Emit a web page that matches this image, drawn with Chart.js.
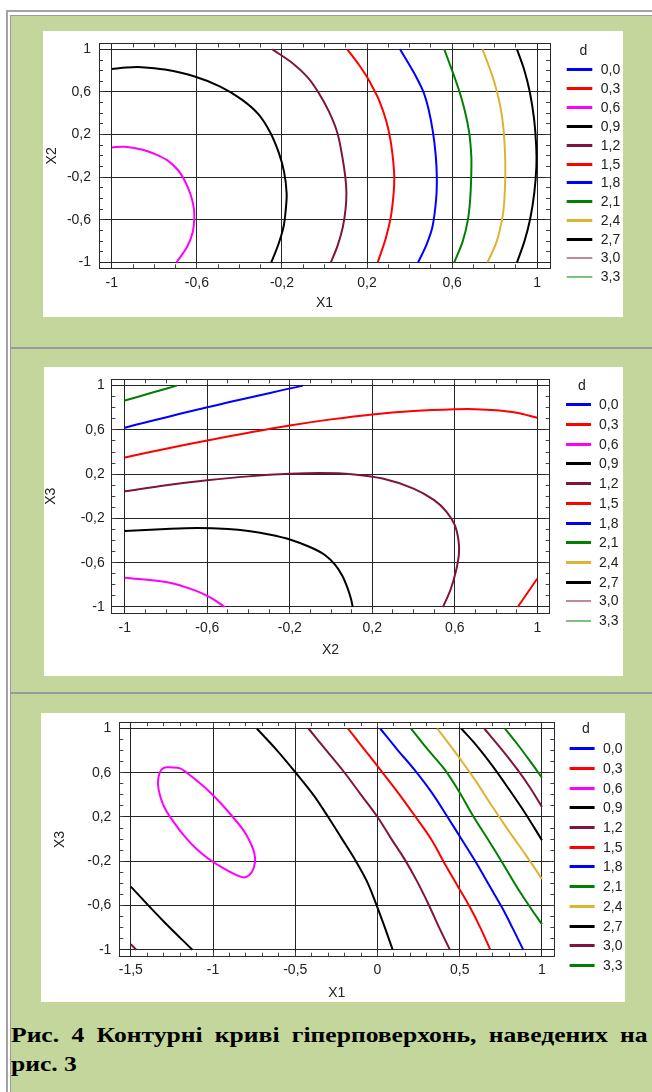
<!DOCTYPE html>
<html>
<head>
<meta charset="utf-8">
<script src="https://cdn.jsdelivr.net/npm/chart.js@4.4.1/dist/chart.umd.min.js"></script>
<style>
html, body { margin: 0; padding: 0; background: #fff; }
body { width: 652px; height: 1092px; overflow: hidden; position: relative; }
#outer { position: absolute; left: 6px; top: 10px; width: 700px; height: 1100px;
         border-left: 2px solid #a4a4a4; border-top: 2px solid #a4a4a4; }
.cell { position: absolute; left: 10px; width: 700px; box-sizing: border-box;
        border: 1px solid #9a9a9a; background: #c3d69b; }
canvas { position: absolute; background: #fff; }
.cap { position: absolute; left: 11px; width: 535px; color: #000;
       font: bold 21.5px/29px "Liberation Serif", "Times New Roman", serif;
       transform: scaleX(1.19); transform-origin: 0 0; }
.cap .l1 { text-align: justify; text-align-last: justify; white-space: nowrap; }
</style>
</head>
<body>
<div id="outer"></div>
<div class="cell" style="top:15px;height:333px"></div>
<div class="cell" style="top:348px;height:345px"></div>
<div class="cell" style="top:693px;height:420px"></div>

<canvas id="fig1" width="580" height="286" style="left:43px;top:31px"></canvas>
<canvas id="fig2" width="579" height="309" style="left:44px;top:367px"></canvas>
<canvas id="fig3" width="584" height="289" style="left:41px;top:713px"></canvas>

<div class="cap" style="top:1021px">
  <div class="l1">Рис. 4 Контурні криві гіперповерхонь, наведених на</div>
  <div>рис. 3</div>
</div>

<script>
// contour levels and their colours
var levels = ['0,0', '0,3', '0,6', '0,9', '1,2', '1,5', '1,8', '2,1', '2,4', '2,7', '3,0', '3,3'];
var levelColors = ['#0000ff', '#ff0000', '#ff00ff', '#000000', '#7f1440', '#ff0000',
                   '#0000ff', '#008000', '#dcb432', '#000000', '#7f1440', '#008000'];
var keyWidthsThin = [3, 3, 3, 3, 3, 3, 3, 3, 3, 3, 1, 1];
var keyWidthsThick = [3, 3, 3, 3, 3, 3, 3, 3, 3, 3, 3, 3];

// tick values and labels
var ticksStd = [-1, -0.6, -0.2, 0.2, 0.6, 1];
var ticksStdLabels = ['-1', '-0,6', '-0,2', '0,2', '0,6', '1'];
var ticksWide = [-1.5, -1, -0.5, 0, 0.5, 1];
var ticksWideLabels = ['-1,5', '-1', '-0,5', '0', '0,5', '1'];

// fig 1: X1 / X2
var f1_d06 = [[-1,0.08],[-0.94,0.085],[-0.86,0.06],[-0.8,0.02],[-0.74,-0.04],[-0.69,-0.13],[-0.655,-0.24],[-0.63,-0.36],[-0.615,-0.48],[-0.612,-0.58],[-0.62,-0.72],[-0.645,-0.85],[-0.696,-1]];
var f1_d09 = [[-1,0.815],[-0.93,0.83],[-0.86,0.833],[-0.75,0.81],[-0.61,0.745],[-0.49,0.65],[-0.39,0.53],[-0.31,0.39],[-0.255,0.22],[-0.215,0.03],[-0.19,-0.15],[-0.178,-0.35],[-0.182,-0.5],[-0.192,-0.66],[-0.215,-0.82],[-0.25,-1]];
var f1_d12 = [[-0.245,1],[-0.15,0.87],[-0.08,0.74],[-0.03,0.6],[0.02,0.42],[0.06,0.22],[0.083,0],[0.098,-0.2],[0.103,-0.35],[0.099,-0.5],[0.086,-0.67],[0.062,-0.84],[0.03,-1]];
var f1_d15 = [[0.107,1],[0.16,0.86],[0.2,0.74],[0.23,0.63],[0.255,0.53],[0.29,0.33],[0.31,0.15],[0.323,-0.05],[0.328,-0.2],[0.325,-0.35],[0.312,-0.57],[0.287,-0.78],[0.25,-1]];
var f1_d18 = [[0.355,1],[0.4,0.85],[0.43,0.745],[0.465,0.6],[0.49,0.43],[0.51,0.22],[0.523,0],[0.528,-0.2],[0.525,-0.4],[0.508,-0.66],[0.48,-0.83],[0.44,-1]];
var f1_d21 = [[0.563,1],[0.6,0.8],[0.63,0.63],[0.66,0.42],[0.68,0.22],[0.69,0],[0.69,-0.16],[0.685,-0.4],[0.674,-0.6],[0.65,-0.8],[0.61,-1]];
var f1_d24 = [[0.743,1],[0.775,0.83],[0.8,0.68],[0.825,0.48],[0.84,0.28],[0.848,0.05],[0.85,-0.16],[0.846,-0.4],[0.837,-0.57],[0.81,-0.8],[0.766,-1]];
var f1_d27 = [[0.905,1],[0.94,0.8],[0.965,0.6],[0.985,0.35],[0.995,0.1],[0.996,-0.1],[0.986,-0.35],[0.966,-0.6],[0.94,-0.8],[0.905,-1]];

// fig 2: X2 / X3
var f2_d06 = [[-1,-0.735],[-0.8,-0.775],[-0.66,-0.85],[-0.58,-0.92],[-0.516,-1]];
var f2_d09 = [[-1,-0.313],[-0.8,-0.295],[-0.65,-0.287],[-0.5,-0.295],[-0.4,-0.313],[-0.3,-0.345],[-0.2,-0.39],[-0.1,-0.46],[-0.03,-0.53],[0.02,-0.62],[0.055,-0.72],[0.08,-0.83],[0.097,-0.93],[0.105,-1]];
var f2_d12 = [[-1,0.045],[-0.8,0.1],[-0.6,0.145],[-0.4,0.18],[-0.2,0.203],[-0.05,0.21],[0.1,0.2],[0.25,0.16],[0.4,0.07],[0.5,-0.035],[0.56,-0.14],[0.6,-0.26],[0.618,-0.4],[0.62,-0.52],[0.605,-0.68],[0.58,-0.84],[0.543,-1]];
var f2_d15 = [[-1,0.35],[-0.8,0.43],[-0.6,0.505],[-0.4,0.575],[-0.2,0.64],[0,0.695],[0.2,0.74],[0.4,0.77],[0.6,0.786],[0.7,0.787],[0.8,0.778],[0.9,0.755],[1,0.71]];
var f2_d15b = [[0.905,-1],[1,-0.743]];
var f2_d18 = [[-1,0.62],[-0.6,0.805],[-0.137,1]];
var f2_d21 = [[-1,0.865],[-0.87,0.935],[-0.748,1]];

// fig 3: X1 / X3
var f3_d12b = [[-1.5,-0.95],[-1.467,-1]];
var f3_d09b = [[-1.5,-0.43],[-1.3,-0.745],[-1.126,-1]];
var f3_d06 = [[-1.26,0.65],[-1.2,0.64],[-1.16,0.6],[-1.1,0.53],[-1.03,0.44],[-0.95,0.32],[-0.88,0.2],[-0.82,0.09],[-0.78,-0.01],[-0.75,-0.12],[-0.745,-0.21],[-0.765,-0.3],[-0.805,-0.345],[-0.85,-0.33],[-0.93,-0.27],[-1.03,-0.175],[-1.1,-0.09],[-1.17,0.02],[-1.235,0.145],[-1.29,0.27],[-1.32,0.38],[-1.335,0.5],[-1.325,0.6],[-1.3,0.645],[-1.26,0.65]];
var f3_d09 = [[-0.734,1],[-0.61,0.8],[-0.497,0.6],[-0.39,0.4],[-0.3,0.2],[-0.215,0],[-0.135,-0.19],[-0.065,-0.38],[-0.01,-0.58],[0.04,-0.78],[0.092,-1]];
var f3_d12 = [[-0.42,1],[-0.31,0.8],[-0.2,0.6],[-0.1,0.4],[0,0.2],[0.085,0],[0.168,-0.19],[0.24,-0.38],[0.307,-0.58],[0.375,-0.8],[0.44,-1]];
var f3_d15 = [[-0.18,1],[-0.09,0.83],[0,0.66],[0.12,0.43],[0.232,0.2],[0.33,-0.01],[0.408,-0.22],[0.49,-0.43],[0.56,-0.61],[0.625,-0.8],[0.686,-1]];
var f3_d18 = [[0.016,1],[0.12,0.81],[0.223,0.63],[0.33,0.42],[0.426,0.2],[0.515,-0.01],[0.603,-0.22],[0.68,-0.42],[0.754,-0.61],[0.82,-0.8],[0.886,-1]];
var f3_d21 = [[0.204,1],[0.3,0.82],[0.408,0.63],[0.5,0.42],[0.585,0.2],[0.675,-0.01],[0.762,-0.22],[0.85,-0.44],[0.93,-0.62],[1,-0.77]];
var f3_d24 = [[0.363,1],[0.43,0.87],[0.5,0.73],[0.6,0.52],[0.7,0.29],[0.8,0.07],[0.9,-0.14],[1,-0.36]];
var f3_d27 = [[0.509,1],[0.6,0.85],[0.7,0.66],[0.8,0.45],[0.9,0.23],[1,-0.01]];
var f3_d30 = [[0.649,1],[0.75,0.82],[0.85,0.63],[0.93,0.46],[1,0.29]];
var f3_d33 = [[0.775,1],[0.85,0.86],[0.93,0.7],[1,0.555]];

// [level index, curve]
var fig1Curves = [[2, f1_d06], [3, f1_d09], [4, f1_d12], [5, f1_d15], [6, f1_d18], [7, f1_d21], [8, f1_d24], [9, f1_d27]];
var fig2Curves = [[2, f2_d06], [3, f2_d09], [4, f2_d12], [5, f2_d15], [5, f2_d15b], [6, f2_d18], [7, f2_d21]];
var fig3Curves = [[4, f3_d12b], [3, f3_d09b], [2, f3_d06], [3, f3_d09], [4, f3_d12], [5, f3_d15], [6, f3_d18],
                  [7, f3_d21], [8, f3_d24], [9, f3_d27], [10, f3_d30], [11, f3_d33]];

Chart.defaults.font.family = '"Liberation Sans", Arial, sans-serif';
Chart.defaults.font.size = 14;
Chart.defaults.color = '#222';

// level key on the right of the plot
var keyPlugin = {
  id: 'contourKey',
  afterDraw: function(chart, args, o) {
    var ctx = chart.ctx, a = chart.chartArea;
    ctx.save();
    ctx.font = '14px "Liberation Sans", Arial, sans-serif';
    ctx.fillStyle = '#222';
    ctx.textBaseline = 'middle';
    ctx.textAlign = 'center';
    ctx.fillText('d', a.right + o.titleX, a.top + o.titleY);
    ctx.textAlign = 'left';
    for (var i = 0; i < levels.length; i++) {
      var w = o.widths[i];
      // thin entries sit between pixel rows, so they come out soft like the original
      var y = Math.round(a.top + o.firstRow + i * o.gap) + (w == 3 ? 0.5 : 0);
      ctx.beginPath();
      ctx.strokeStyle = levelColors[i];
      ctx.lineWidth = w;
      ctx.moveTo(a.right + o.lineFrom, y);
      ctx.lineTo(a.right + o.lineTo, y);
      ctx.stroke();
      ctx.fillText(levels[i], a.right + o.textX, Math.round(y) + 0.5);
    }
    ctx.restore();
  }
};

function minorAxis(pos, min, max) {
  var horiz = pos == 'top' || pos == 'bottom';
  return {
    type: 'linear', position: pos, min: min, max: max, weight: 0,
    ticks: { display: false, stepSize: 0.1 },
    grid: { drawOnChartArea: false, drawTicks: true, tickLength: -4, color: '#444' },
    border: { display: true, color: '#2a2a2a' },
    afterFit: function(s) { if (horiz) s.height = 0; else s.width = 0; }
  };
}

function makeFigure(id, curves, g) {
  var datasets = curves.map(function(c) {
    return {
      data: c[1].map(function(p) { return { x: p[0], y: p[1] }; }),
      borderColor: levelColors[c[0]],
      borderWidth: 2,
      showLine: true,
      pointRadius: 0,
      tension: 0.35,
      fill: false
    };
  });

  return new Chart(document.getElementById(id), {
    type: 'scatter',
    data: { datasets: datasets },
    plugins: [keyPlugin],
    options: {
      responsive: false,
      animation: false,
      devicePixelRatio: 1,
      events: [],
      layout: { autoPadding: false, padding: { left: 0, top: g.top, right: g.right, bottom: 0 } },
      plugins: {
        legend: { display: false },
        tooltip: { enabled: false },
        contourKey: g.key
      },
      scales: {
        x: {
          type: 'linear', position: 'bottom', min: g.xMin, max: g.xMax, weight: 1,
          afterBuildTicks: function(s) { s.ticks = g.xTicks.map(function(v) { return { value: v }; }); },
          ticks: { callback: function(v, i) { return g.xLabels[i]; }, padding: g.xTickPad,
                   autoSkip: false, maxRotation: 0, color: '#222' },
          grid: { color: '#262626', drawTicks: false },
          border: { display: false },
          title: { display: true, text: g.xTitle, color: '#222', padding: { top: 0, bottom: g.xTitlePad } },
          afterFit: function(s) { s.height = g.xAxisH; s.paddingLeft = 0; s.paddingRight = 0; }
        },
        y: {
          type: 'linear', position: 'left', min: g.yMin, max: g.yMax, weight: 1,
          afterBuildTicks: function(s) { s.ticks = ticksStd.map(function(v) { return { value: v }; }); },
          ticks: { callback: function(v, i) { return ticksStdLabels[i]; }, padding: g.yTickPad,
                   autoSkip: false, color: '#222' },
          grid: { color: '#262626', drawTicks: false },
          border: { display: false },
          title: { display: true, text: g.yTitle, color: '#222', padding: { top: g.yTitlePad, bottom: 0 } },
          afterFit: function(s) { s.width = g.yAxisW; s.paddingTop = 0; s.paddingBottom = 0; }
        },
        xTop: minorAxis('top', g.xMin, g.xMax),
        xBot: minorAxis('bottom', g.xMin, g.xMax),
        yLeft: minorAxis('left', g.yMin, g.yMax),
        yRight: minorAxis('right', g.yMin, g.yMax)
      }
    }
  });
}

makeFigure('fig1', fig1Curves, {
  top: 12.5, right: 73, yAxisW: 56, xAxisH: 48.7,
  xMin: -1.06, xMax: 1.06, yMin: -1.055, yMax: 1.055,
  xTicks: ticksStd, xLabels: ticksStdLabels,
  xTitle: 'X1', yTitle: 'X2', xTickPad: 6, yTickPad: 8, xTitlePad: 5.6, yTitlePad: 0.6,
  key: { titleX: 33.3, titleY: 7.2, lineFrom: 16.7, lineTo: 42.3, textX: 50.7, firstRow: 25.5, gap: 18.9, widths: keyWidthsThin }
});

makeFigure('fig2', fig2Curves, {
  top: 12.3, right: 73.3, yAxisW: 67.4, xAxisH: 62.7,
  xMin: -1.065, xMax: 1.06, yMin: -1.057, yMax: 1.057,
  xTicks: ticksStd, xLabels: ticksStdLabels,
  xTitle: 'X2', yTitle: 'X3', xTickPad: 6, yTickPad: 6.6, xTitlePad: 17.6, yTitlePad: -1.7,
  key: { titleX: 32.3, titleY: 6.7, lineFrom: 16.3, lineTo: 41.3, textX: 49.3, firstRow: 25, gap: 19.7, widths: keyWidthsThin }
});

makeFigure('fig3', fig3Curves, {
  top: 9.2, right: 70.7, yAxisW: 78.3, xAxisH: 45.3,
  xMin: -1.57, xMax: 1.075, yMin: -1.063, yMax: 1.057,
  xTicks: ticksWide, xLabels: ticksWideLabels,
  xTitle: 'X1', yTitle: 'X3', xTickPad: 5.5, yTickPad: 7.9, xTitlePad: 0.6, yTitlePad: 10.6,
  key: { titleX: 31.7, titleY: 6.8, lineFrom: 15.3, lineTo: 40.3, textX: 48.7, firstRow: 26, gap: 19.7, widths: keyWidthsThick }
});
</script>
</body>
</html>
